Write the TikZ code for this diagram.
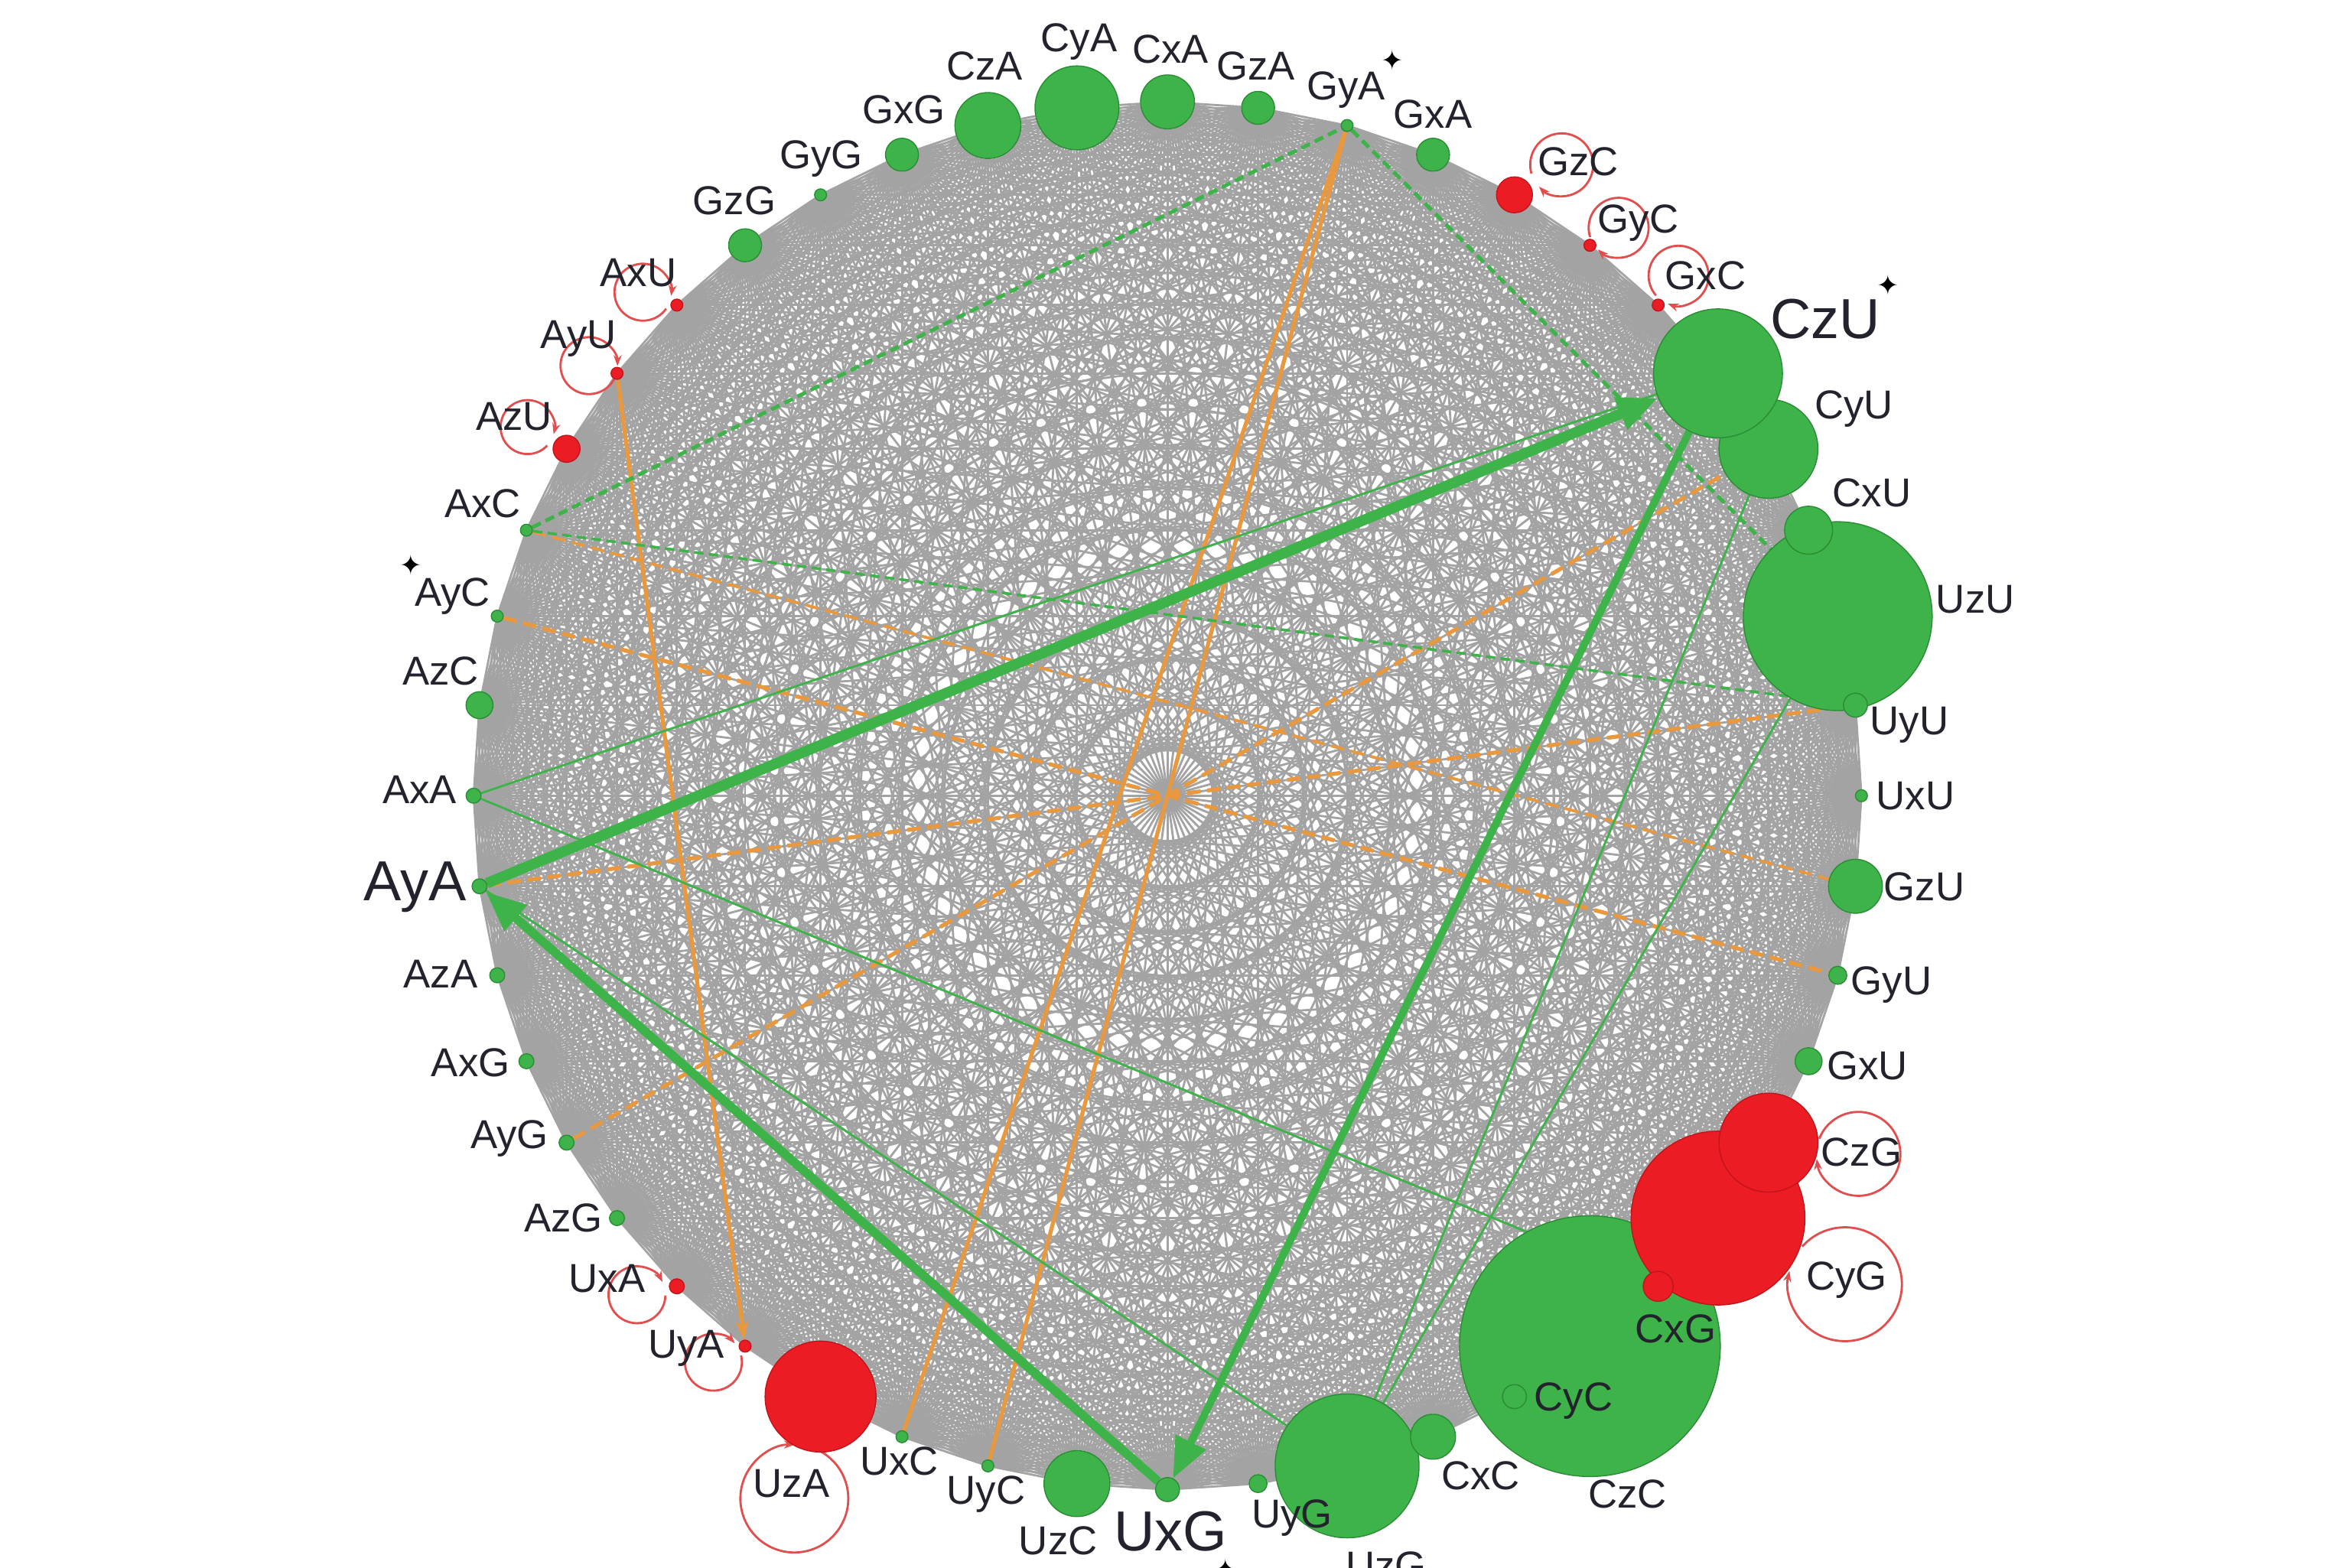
\documentclass[tikz,border=0pt]{standalone}
\usepackage{fontspec}
\setmainfont{Liberation Sans}
\newfontfamily\starfont{DejaVu Sans}
\usetikzlibrary{arrows.meta,calc}
\definecolor{ngreen}{RGB}{61,179,73}
\definecolor{ngreenD}{RGB}{44,140,54}
\definecolor{nred}{RGB}{236,28,36}
\definecolor{nredD}{RGB}{190,22,28}
\definecolor{egray}{RGB}{163,163,163}
\definecolor{eorange}{RGB}{232,152,62}
\definecolor{loopred}{RGB}{226,78,78}
\definecolor{loopbrown}{RGB}{185,110,40}
\definecolor{labtext}{RGB}{35,35,45}
\pgfdeclarelayer{bgl}
\pgfdeclarelayer{edges}
\pgfsetlayers{bgl,edges,main}
\begin{document}
\begin{tikzpicture}[x=0.019592cm,y=-0.019592cm,
  gn/.style={circle,inner sep=0pt,fill=ngreen,draw=ngreenD,line width=0.4pt},
  rn/.style={circle,inner sep=0pt,fill=nred,draw=nredD,line width=0.4pt},
  lab/.style={text=labtext,font=\fontsize{15}{18}\selectfont,inner sep=0pt},
  biglab/.style={text=labtext,font=\fontsize{21}{25}\selectfont,inner sep=0pt},
  starmark/.style={text=black,font=\starfont\fontsize{10}{10}\selectfont,inner sep=0pt},
  grayedge/.style={draw=egray,line width=0.8pt},
  orangeedge/.style={draw=eorange,line width=1.5pt},
  orangedash/.style={draw=eorange,line width=1.5pt,dash pattern=on 5pt off 2.5pt},
  greendash/.style={draw=ngreen,line width=1.4pt,dash pattern=on 3.5pt off 2pt},
  greenthin/.style={draw=ngreen,line width=0.8pt},
  greenthick/.style={draw=ngreen,line width=#1,-{Triangle[length=15pt,width=12pt]}},
  selfloop/.style={draw=loopred,line width=0.8pt,-{Stealth[length=4pt,width=3pt]}},
]
\useasboundingbox (0,0) rectangle (1568,1046);
\begin{pgfonlayer}{bgl}
  \fill[white] (0,0) rectangle (1568,1046);
\end{pgfonlayer}

% ---------- nodes (angle index i: 90-7.5 i degrees) ----------
\foreach \nm/\i/\r/\st in {CyU/8/33/gn, CzU/7/43/gn, UzU/10/63/gn, CxU/9/16/gn, UyU/11/8/gn,
  CzC/19/87/gn, CyC/20/8/gn, CyG/17/58/rn, CzG/16/33/rn, CxG/18/10/rn, UzG/22/48/gn, CxC/21/15/gn,
  CxA/0/18/gn, GzA/1/11/gn, GyA/2/4/gn, GxA/3/11/gn, GzC/4/12/rn, GyC/5/4/rn, GxC/6/4/rn,
  UxU/12/4/gn, GzU/13/18/gn, GyU/14/6/gn, GxU/15/9/gn, UyG/23/6/gn, UxG/24/8/gn, UzC/25/22/gn,
  UyC/26/4/gn, UxC/27/4/gn, UzA/28/37/rn, UyA/29/4/rn, UxA/30/5/rn, AzG/31/5/gn, AyG/32/5/gn,
  AxG/33/5/gn, AzA/34/5/gn, AyA/35/5/gn, AxA/36/5/gn, AzC/37/9/gn, AyC/38/4/gn, AxC/39/4/gn,
  AzU/40/9/rn, AyU/41/4/rn, AxU/42/4/rn, GzG/43/11/gn, GyG/44/4/gn, GxG/45/11/gn,
  CzA/46/22/gn, CyA/47/28/gn}{
  \pgfmathsetmacro\ds{2*\r*0.019592}
  \node[\st,minimum size=\ds cm,alias=n\i] (\nm) at ({779+463*cos(90-7.5*\i)},{531-463*sin(90-7.5*\i)}) {};
}

% ---------- labels ----------
\foreach \nm/\x/\y in {CxA/781/33, CyA/720/28, CzA/657/44, GxG/603/73, GyG/548/106, GzG/490/134,
  AxU/426/182, AyU/386/226, AzU/343/278, AxC/322/336, AyC/302/398, AzC/294/448, AxA/280/527,
  AzA/294/650, AxG/314/709, AyG/340/760, AzG/376/813, UxA/405/853, UyA/458/900, UzA/528/990,
  UxC/600/975, UyC/658/997, UzC/706/1028, UyG/862/1013, CxC/988/985, CyC/1050/935,
  CzC/1086/997, CxG/1118/887, CyG/1232/854, CzG/1242/769, GxU/1246/711, GyU/1262/657,
  GzU/1284/592, UxU/1278/531, UyU/1274/484, UzU/1318/400, CxU/1249/329, CyU/1237/273,
  GxC/1138/184, GyC/1093/149, GzC/1053/108, GxA/956/76, GyA/898/60, GzA/838/44}{
  \node[lab] (l\nm) at (\x,\y) {\nm};
}
\node[lab,anchor=north] (lUzG) at (925,1035) {UzG};
\node[biglab] (lAyA) at (277,592) {AyA};
\node[biglab] (lCzU) at (1218,213) {CzU};
\node[biglab] (lUxG) at (781,1022) {UxG};
\node[starmark] (s1) at (929,40) {✦};
\node[starmark] (s2) at (1260,190) {✦};
\node[starmark] (s3) at (274,377) {✦};
\node[starmark,anchor=north] (s4) at (818,1040) {✦};

% ---------- edges ----------
\begin{pgfonlayer}{edges}
  % gray mesh
  \foreach \i in {0,...,46}{
    \pgfmathtruncatemacro\s{\i+1}
    \foreach \j in {\s,...,47}{
      \draw[grayedge] (n\i) -- (n\j);
    }
  }
  % orange lines
  \draw[orangedash] (AyC) -- (GyU);
  \draw[orangedash] (AyG) -- (CyU);
  \draw[orangedash] (AyA) -- (UyU);
  \draw[orangedash,line width=1.1pt] (AxC) -- (GzU);
  \draw[orangeedge] (GyA) -- (UxC);
  \draw[orangeedge] (GyA) -- (UyC);
  \draw[orangeedge,-{Stealth[length=7pt,width=5pt]}] (AyU) -- (UyA);
  % green dashed
  \draw[greendash] (AxC) -- (GyA);
  \draw[greendash,line width=1pt] (AxC) -- (UyU);
  \draw[greendash] (GyA) -- (UzU);
  % thin green
  \draw[greenthin] (AxA) -- (CzU);
  \draw[greenthin] (AxA) -- (CxG);
  \draw[greenthin] (AyA) -- (UzG);
  \draw[greenthin] (CyU) -- (UzG);
  \draw[greenthin] (UzU) -- (UzG);
  % thick green arrows
  \draw[greenthick=3.9pt] (AyA) -- (CzU);
  \draw[greenthick=2.8pt] (CzU) -- (UxG);
  \draw[greenthick=3.3pt] (UxG) -- (AyA);
  % self loops
  \foreach \cx/\cy/\r/\a in {1042/110/21/149.9, 1080/152/20/147.7, 1120/184/20/125,
     429/195/19/21.4, 393/244/19/14.7, 352/285/18/29.1, 425/864/19/-12.5, 476/909/19/-27.6,
     530/1000/36/-75.6, 1240/770/28/187.1, 1231/857/38/207.4}{
    \draw[selfloop] ($(\cx,\cy)+(\a+14:\r)$) arc[start angle=\a+14, delta angle=332, radius=\r];
  }
  \draw[selfloop,draw=loopbrown] ($(1097,888)+(-59.3:20)$) arc[start angle=-59.3, delta angle=332, radius=20];
\end{pgfonlayer}
\end{tikzpicture}
\end{document}
